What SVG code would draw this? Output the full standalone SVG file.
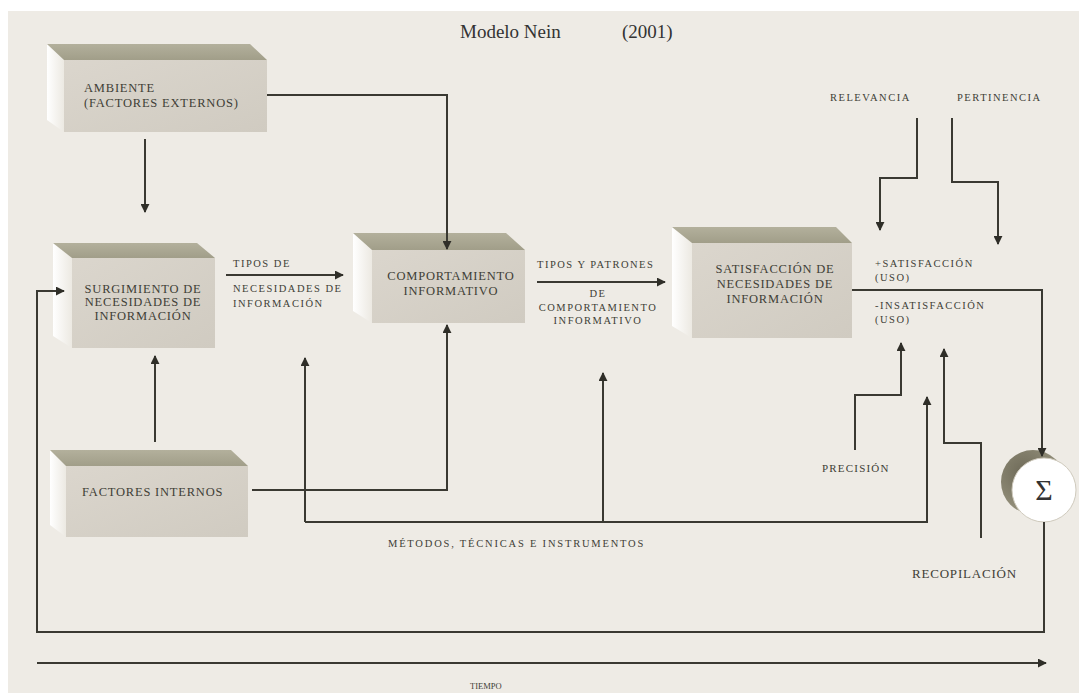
<svg xmlns="http://www.w3.org/2000/svg" width="1079" height="693" viewBox="0 0 1079 693">
<style>
text{font-family:"Liberation Serif","Times New Roman",serif;fill:#403e36}
.big{font-size:12.5px;letter-spacing:0.8px}
.sm{font-size:10.5px;letter-spacing:1.5px}
.top{fill:url(#gTop)}
.front{fill:url(#gFront)}
.side{fill:url(#gSide)}
.ln{fill:none;stroke:#3a3932;stroke-width:2}
.ar{marker-end:url(#arr)}
</style>
<defs>
<linearGradient id="gTop" x1="0" y1="0" x2="0" y2="1"><stop offset="0" stop-color="#b3b09c"/><stop offset="1" stop-color="#a19e89"/></linearGradient>
<linearGradient id="gFront" x1="0" y1="0" x2="1" y2="1"><stop offset="0" stop-color="#dbd6cd"/><stop offset="1" stop-color="#d0cbc1"/></linearGradient>
<linearGradient id="gSide" x1="0" y1="0" x2="1" y2="0"><stop offset="0" stop-color="#ffffff"/><stop offset="1" stop-color="#ece9e2"/></linearGradient>
<radialGradient id="gSh" cx="0.35" cy="0.35" r="0.7"><stop offset="0" stop-color="#6e6a58"/><stop offset="1" stop-color="#9a9681"/></radialGradient>
<marker id="arr" viewBox="0 0 10 10" refX="9" refY="5" markerWidth="4.5" markerHeight="4.5" orient="auto" markerUnits="strokeWidth"><path d="M0,0 L10,5 L0,10 z" fill="#2f2e28"/></marker>
</defs>
<rect width="1079" height="693" fill="#ffffff"/>
<rect x="8" y="11" width="1071" height="682" fill="#eeebe5"/>

<text x="460" y="38" style="font-size:19px;fill:#333">Modelo Nein</text>
<text x="622" y="38" style="font-size:19px;fill:#333">(2001)</text>

<g id="ambiente">
<polygon class="side" points="47,44 64,60 64,132 47,120"/>
<polygon class="top" points="47,44 250,44 267,60 64,60"/>
<rect class="front" x="64" y="60" width="203" height="72"/>
<text class="big" x="84" y="92">AMBIENTE</text>
<text class="big" x="84" y="107">(FACTORES EXTERNOS)</text>
</g>

<g id="surgimiento">
<polygon class="side" points="53,243 72,258 72,348 53,336"/>
<polygon class="top" points="53,243 197,243 215,258 72,258"/>
<rect class="front" x="72" y="258" width="143" height="90"/>
<text class="big" x="143" y="293" text-anchor="middle">SURGIMIENTO DE</text>
<text class="big" x="143" y="306" text-anchor="middle">NECESIDADES DE</text>
<text class="big" x="143" y="320" text-anchor="middle">INFORMACIÓN</text>
</g>

<g id="comportamiento">
<polygon class="side" points="353,233 372,250 372,323 353,311"/>
<polygon class="top" points="353,233 506,233 525,250 372,250"/>
<rect class="front" x="372" y="250" width="153" height="73"/>
<text class="big" x="451" y="280" text-anchor="middle">COMPORTAMIENTO</text>
<text class="big" x="451" y="295" text-anchor="middle">INFORMATIVO</text>
</g>

<g id="satisfaccion">
<polygon class="side" points="672,227 692,243 692,338 672,326"/>
<polygon class="top" points="672,227 836,227 852,243 692,243"/>
<rect class="front" x="692" y="243" width="160" height="95"/>
<text class="big" x="775" y="273" text-anchor="middle">SATISFACCIÓN DE</text>
<text class="big" x="775" y="288" text-anchor="middle">NECESIDADES DE</text>
<text class="big" x="775" y="303" text-anchor="middle">INFORMACIÓN</text>
</g>

<g id="factores-internos">
<polygon class="side" points="50,450 66,466 66,537 50,525"/>
<polygon class="top" points="50,450 231,450 248,466 66,466"/>
<rect class="front" x="66" y="466" width="182" height="71"/>
<text class="big" x="82" y="496">FACTORES INTERNOS</text>
</g>

<g id="sigma">
<circle cx="1033" cy="482" r="32" fill="url(#gSh)"/>
<circle cx="1044" cy="490" r="32" fill="#ffffff" stroke="#cfcabd" stroke-width="1"/>
<text x="1044" y="500" text-anchor="middle" style="font-size:30px;fill:#333">Σ</text>
</g>

<g id="connectors">
<path class="ln ar" d="M145,139 V212"/>
<path class="ln ar" d="M267,95 H447 V249"/>
<path class="ln ar" d="M226,275 H343"/>
<path class="ln ar" d="M155,442 V356"/>
<path class="ln ar" d="M252,490 H447 V325"/>
<path class="ln ar" d="M537,282 H665"/>
<path class="ln ar" d="M305,522 V358"/>
<path class="ln ar" d="M603,522 V373"/>
<path class="ln ar" d="M305,522 H927 V397"/>
<path class="ln ar" d="M852,290 H1042 V456"/>
<path class="ln ar" d="M1044,522 V632 H37 V291 H64"/>
<path class="ln ar" d="M917,118 V178 H880 V230"/>
<path class="ln ar" d="M952,118 V182 H998 V244"/>
<path class="ln ar" d="M855,450 V395 H901 V343"/>
<path class="ln ar" d="M981,538 V443 H944 V349"/>
<path class="ln ar" d="M37,663 H1046"/>
</g>

<g id="labels">
<text class="sm" x="233" y="267">TIPOS DE</text>
<text class="sm" x="233" y="292">NECESIDADES DE</text>
<text class="sm" x="233" y="307">INFORMACIÓN</text>
<text class="sm" x="537" y="268">TIPOS Y PATRONES</text>
<text class="sm" x="598" y="297" text-anchor="middle">DE</text>
<text class="sm" x="598" y="311" text-anchor="middle">COMPORTAMIENTO</text>
<text class="sm" x="598" y="324" text-anchor="middle">INFORMATIVO</text>
<text class="sm" x="875" y="267">+SATISFACCIÓN</text>
<text class="sm" x="875" y="281">(USO)</text>
<text class="sm" x="875" y="309">-INSATISFACCIÓN</text>
<text class="sm" x="875" y="323">(USO)</text>
<text class="sm" x="830" y="101">RELEVANCIA</text>
<text class="sm" x="957" y="101">PERTINENCIA</text>
<text class="sm" x="822" y="472" style="font-size:11px;letter-spacing:1.2px">PRECISIÓN</text>
<text x="912" y="578" style="font-size:13px;letter-spacing:0.8px">RECOPILACIÓN</text>
<text class="sm" x="388" y="547" style="letter-spacing:1.8px">MÉTODOS, TÉCNICAS E INSTRUMENTOS</text>
<text x="470" y="689" style="font-size:8.5px">TIEMPO</text>
</g>
</svg>
